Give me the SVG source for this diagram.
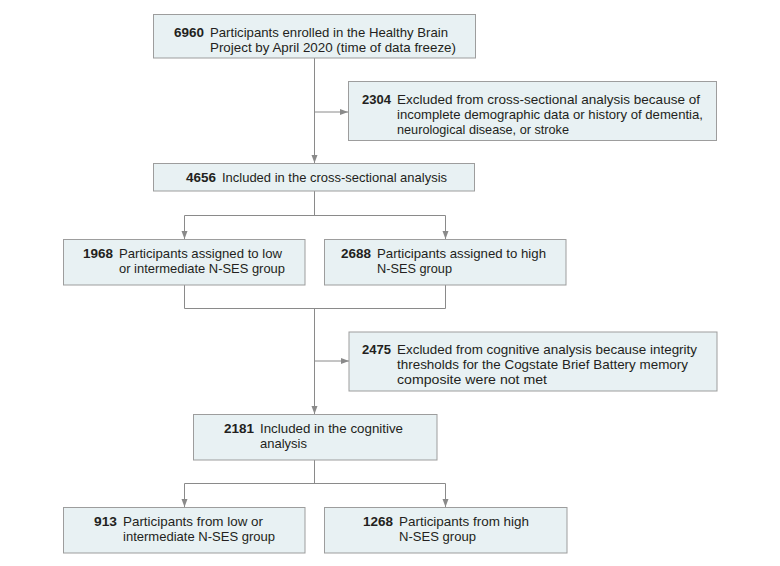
<svg xmlns="http://www.w3.org/2000/svg" width="780" height="566" viewBox="0 0 780 566">
<style>
.box{fill:#e8f1f3;stroke:#9d9d9d;stroke-width:1}
.ln{fill:none;stroke:#8a8a8a;stroke-width:1}
text{font-family:"Liberation Sans Narrow","Arial Narrow","Liberation Sans",Arial,sans-serif;font-size:13.5px;fill:#231f20}
.n{font-weight:bold}
</style>
<defs>
<marker id="ah" viewBox="0 0 8 8" refX="8" refY="4" markerWidth="8" markerHeight="8" markerUnits="userSpaceOnUse" orient="auto">
<path d="M0,1 L8,4 L0,7 Z" fill="#8a8a8a"/>
</marker>
</defs>
<rect width="780" height="566" fill="#fff"/>
<g id="connectors">
<path class="ln" d="M314.5,58 V163" marker-end="url(#ah)"/>
<path class="ln" d="M314.5,112 H348" marker-end="url(#ah)"/>
<path class="ln" d="M314.5,191 V215.5 M184.5,215.5 H445.5"/>
<path class="ln" d="M184.5,215.5 V239" marker-end="url(#ah)"/>
<path class="ln" d="M445.5,215.5 V239" marker-end="url(#ah)"/>
<path class="ln" d="M184.5,285 V308.5 H445.5 V285"/>
<path class="ln" d="M314.5,308.5 V414" marker-end="url(#ah)"/>
<path class="ln" d="M314.5,361 H349" marker-end="url(#ah)"/>
<path class="ln" d="M314.5,460 V483.5 M184.5,483.5 H445.5"/>
<path class="ln" d="M184.5,483.5 V507" marker-end="url(#ah)"/>
<path class="ln" d="M445.5,483.5 V507" marker-end="url(#ah)"/>
</g>
<g id="n6960">
<rect class="box" x="153.5" y="14.5" width="322" height="43.5"/>
<text><tspan class="n" x="174" y="36.5" textLength="30" lengthAdjust="spacingAndGlyphs">6960</tspan><tspan x="210" y="36.5" textLength="238" lengthAdjust="spacingAndGlyphs">Participants enrolled in the Healthy Brain</tspan><tspan x="210" y="51.5" textLength="246" lengthAdjust="spacingAndGlyphs">Project by April 2020 (time of data freeze)</tspan></text>
</g>
<g id="n2304">
<rect class="box" x="348.5" y="81.5" width="368" height="59"/>
<text><tspan class="n" x="362" y="104" textLength="29" lengthAdjust="spacingAndGlyphs">2304</tspan><tspan x="397" y="104" textLength="303" lengthAdjust="spacingAndGlyphs">Excluded from cross-sectional analysis because of</tspan><tspan x="397" y="119" textLength="306" lengthAdjust="spacingAndGlyphs">incomplete demographic data or history of dementia,</tspan><tspan x="397" y="134" textLength="172" lengthAdjust="spacingAndGlyphs">neurological disease, or stroke</tspan></text>
</g>
<g id="n4656">
<rect class="box" x="153.5" y="163.5" width="321" height="27.5"/>
<text><tspan class="n" x="186" y="181.5" textLength="30" lengthAdjust="spacingAndGlyphs">4656</tspan><tspan x="222" y="181.5" textLength="225" lengthAdjust="spacingAndGlyphs">Included in the cross-sectional analysis</tspan></text>
</g>
<g id="n1968">
<rect class="box" x="63.5" y="239.5" width="241.5" height="45.5"/>
<text><tspan class="n" x="83" y="258" textLength="30" lengthAdjust="spacingAndGlyphs">1968</tspan><tspan x="119" y="258" textLength="163" lengthAdjust="spacingAndGlyphs">Participants assigned to low</tspan><tspan x="119" y="273" textLength="166" lengthAdjust="spacingAndGlyphs">or intermediate N-SES group</tspan></text>
</g>
<g id="n2688">
<rect class="box" x="324.5" y="239.5" width="241.5" height="45.5"/>
<text><tspan class="n" x="341" y="258" textLength="30" lengthAdjust="spacingAndGlyphs">2688</tspan><tspan x="377" y="258" textLength="169" lengthAdjust="spacingAndGlyphs">Participants assigned to high</tspan><tspan x="377" y="273" textLength="75" lengthAdjust="spacingAndGlyphs">N-SES group</tspan></text>
</g>
<g id="n2475">
<rect class="box" x="349" y="332" width="368" height="59"/>
<text><tspan class="n" x="362" y="354" textLength="29" lengthAdjust="spacingAndGlyphs">2475</tspan><tspan x="397" y="354" textLength="300" lengthAdjust="spacingAndGlyphs">Excluded from cognitive analysis because integrity</tspan><tspan x="397" y="369" textLength="291" lengthAdjust="spacingAndGlyphs">thresholds for the Cogstate Brief Battery memory</tspan><tspan x="397" y="384" textLength="150" lengthAdjust="spacingAndGlyphs">composite were not met</tspan></text>
</g>
<g id="n2181">
<rect class="box" x="193.5" y="414.5" width="243.5" height="45.5"/>
<text><tspan class="n" x="224" y="433" textLength="30" lengthAdjust="spacingAndGlyphs">2181</tspan><tspan x="260" y="433" textLength="143" lengthAdjust="spacingAndGlyphs">Included in the cognitive</tspan><tspan x="260" y="448" textLength="47" lengthAdjust="spacingAndGlyphs">analysis</tspan></text>
</g>
<g id="n913">
<rect class="box" x="63.5" y="507.5" width="241.5" height="45.5"/>
<text><tspan class="n" x="94" y="526" textLength="23" lengthAdjust="spacingAndGlyphs">913</tspan><tspan x="123" y="526" textLength="140" lengthAdjust="spacingAndGlyphs">Participants from low or</tspan><tspan x="123" y="541" textLength="152" lengthAdjust="spacingAndGlyphs">intermediate N-SES group</tspan></text>
</g>
<g id="n1268">
<rect class="box" x="324.5" y="507.5" width="242.5" height="45.5"/>
<text><tspan class="n" x="363" y="526" textLength="30" lengthAdjust="spacingAndGlyphs">1268</tspan><tspan x="399" y="526" textLength="130" lengthAdjust="spacingAndGlyphs">Participants from high</tspan><tspan x="399" y="541" textLength="77" lengthAdjust="spacingAndGlyphs">N-SES group</tspan></text>
</g>
</svg>
